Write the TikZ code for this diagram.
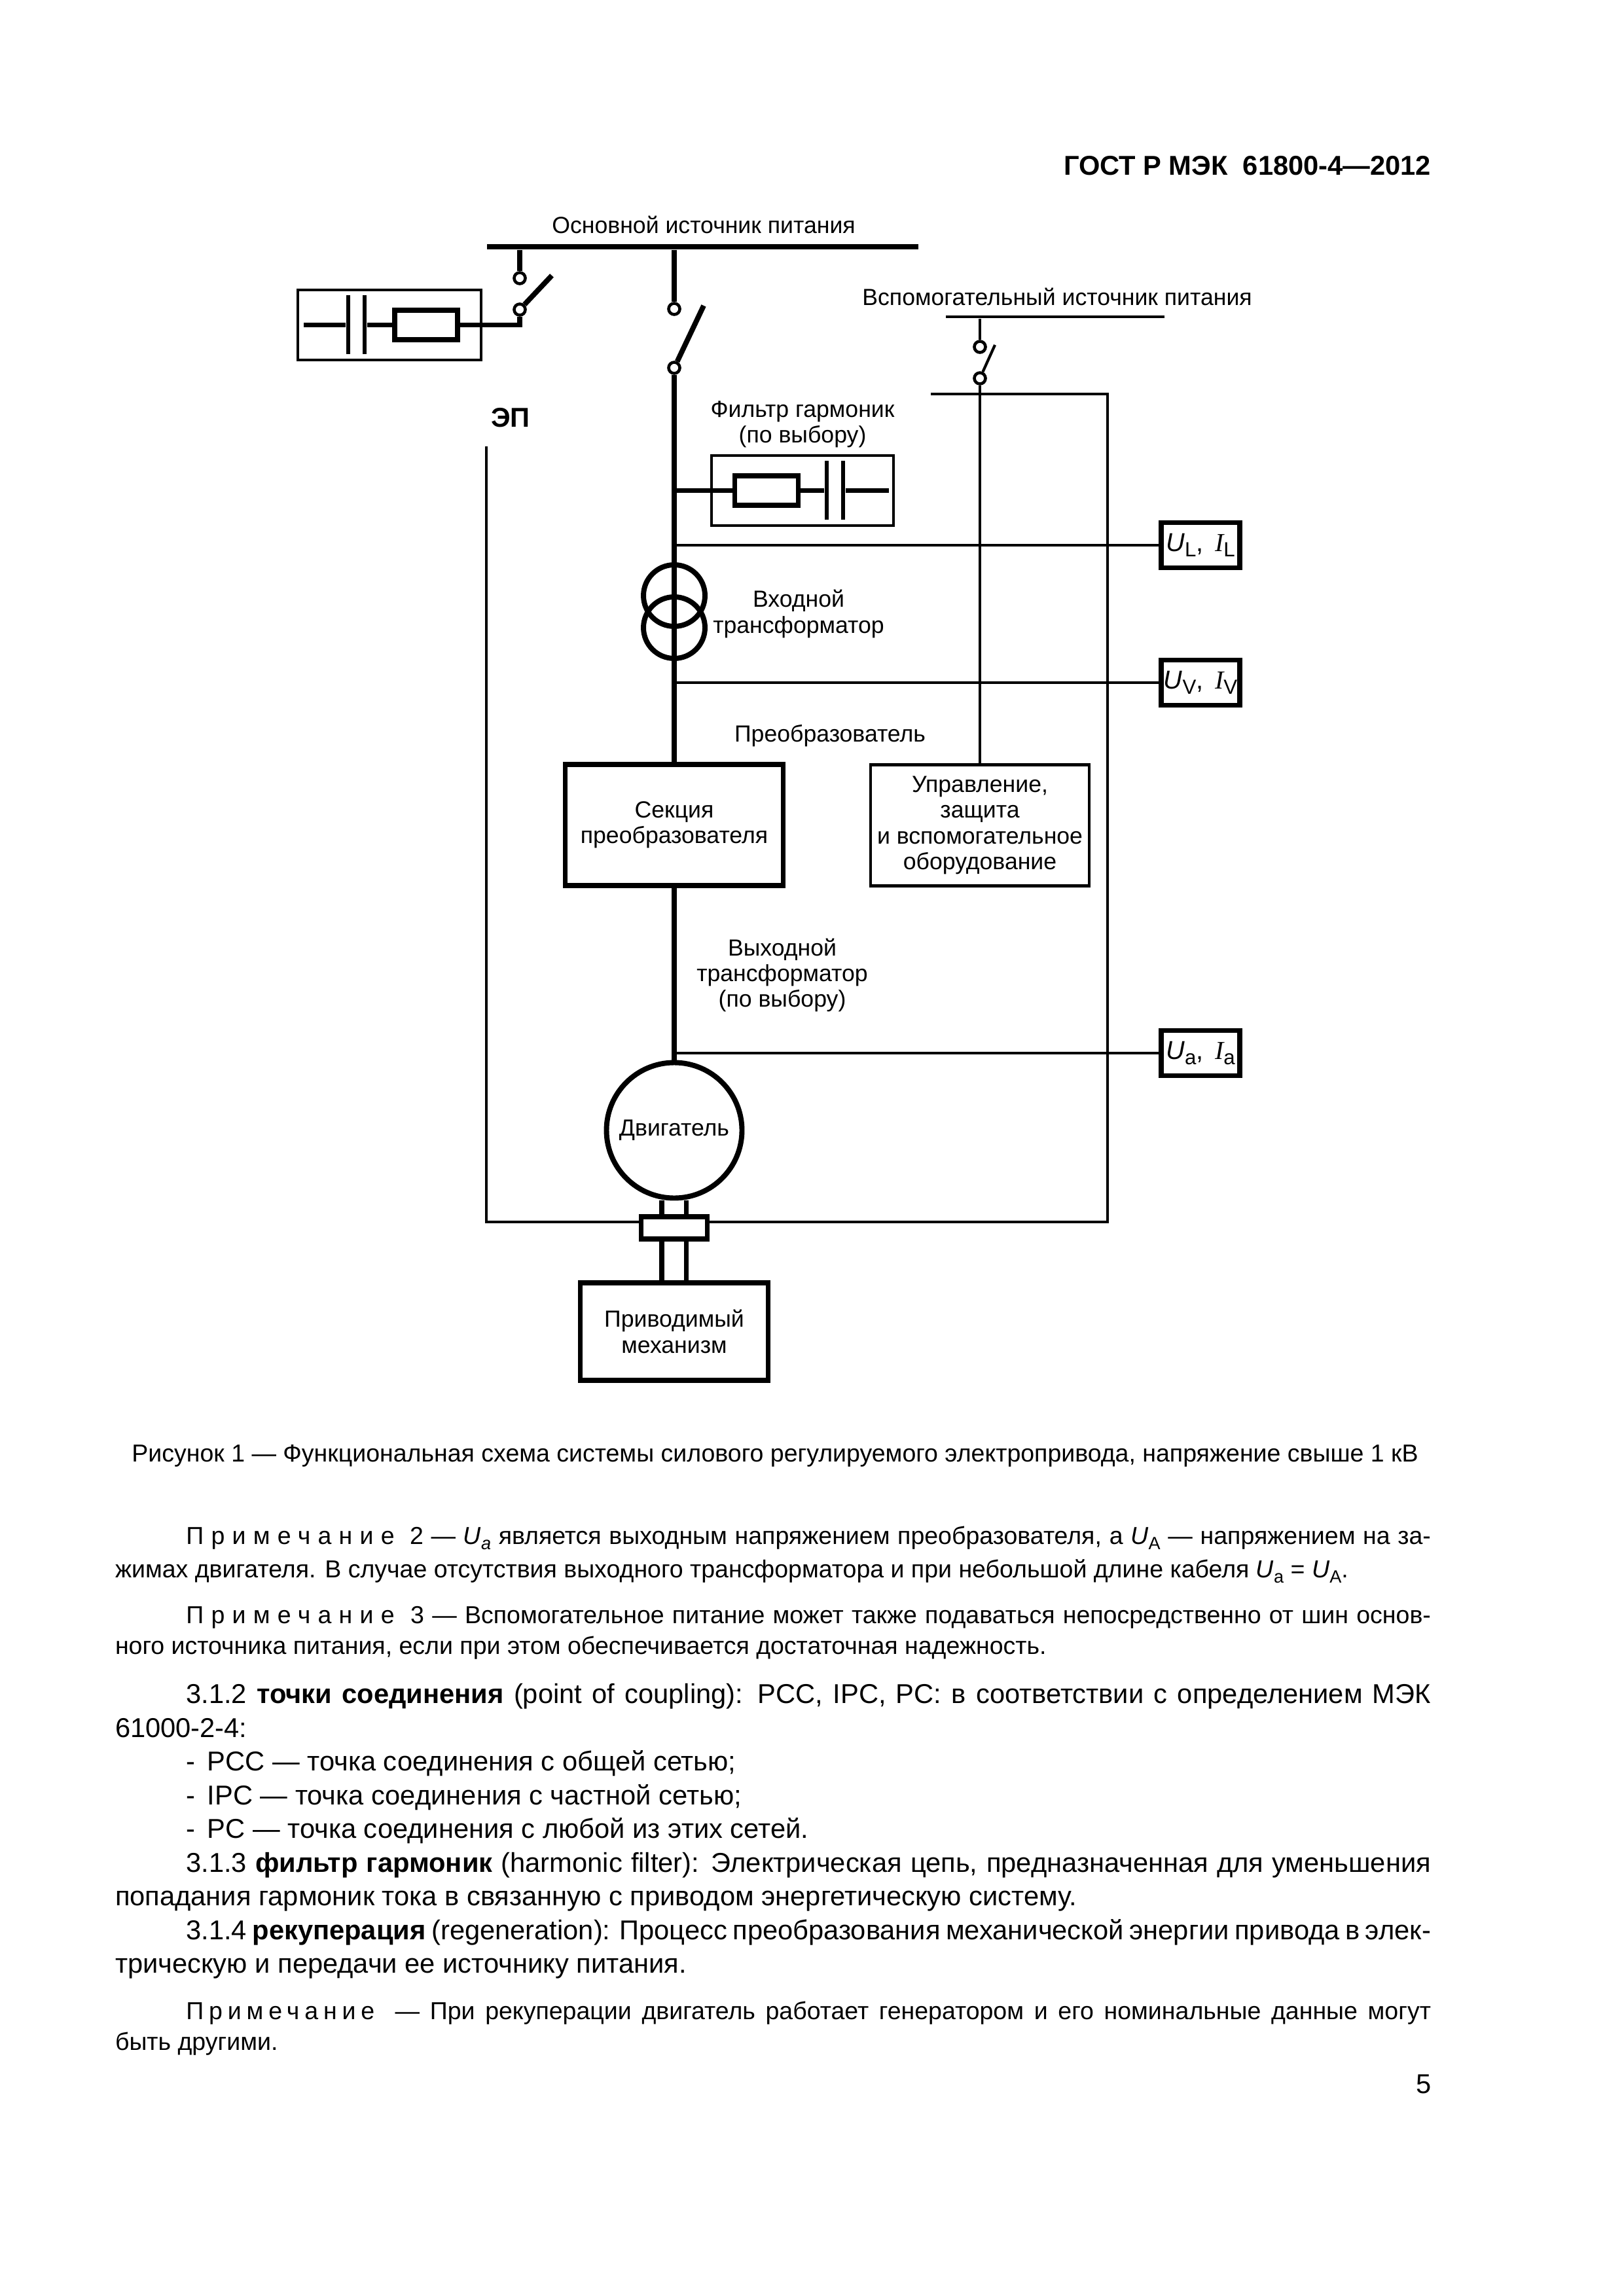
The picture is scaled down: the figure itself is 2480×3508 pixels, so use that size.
\documentclass[tikz,border=0pt]{standalone}
\usepackage{fontspec}
\setmainfont{Liberation Sans}
\newfontfamily\serfont{Liberation Serif}
\newfontfamily\spfont[LetterSpace=30]{Liberation Sans}
\newfontfamily\spfontb[LetterSpace=21]{Liberation Sans}
\newcommand{\sbs}[1]{\raisebox{-0.4ex}{\fontsize{7.5}{7.5}\selectfont #1}}
\newcommand{\sbsn}[1]{\raisebox{-0.4ex}{\fontsize{6.5}{6.5}\selectfont #1}}
\newcommand{\notefont}{\fontsize{9}{11.3}\selectfont\sloppy\hyphenpenalty=10000 }
\newcommand{\notetwofont}{\fontsize{9}{12.25}\selectfont\sloppy\hyphenpenalty=10000 }
\newcommand{\bodyfont}{\fontsize{10}{12.36}\selectfont\sloppy\hyphenpenalty=10000 }
\begin{document}
\begin{tikzpicture}[x=0.24pt, y=-0.24pt,
    boxsize/.style 2 args = {minimum width=#1*0.24pt, minimum height=#2*0.24pt},
    heavy/.style = {line width=1.9pt},
    thin line/.style = {line width=1pt},
    hbox/.style = {draw, heavy, inner sep=0, align=center, font=\fontsize{8.55}{9.4}\selectfont},
    lbox/.style = {draw, thin line, inner sep=0, align=center, font=\fontsize{8.55}{9.4}\selectfont},
    contact/.style = {draw, circle, line width=1.1pt, inner sep=0, minimum size=17*0.24pt},
    coil/.style = {draw, circle, heavy, inner sep=0, minimum size=94*0.24pt},
    plate/.style = {fill, inner sep=0, boxsize={6}{90}},
    bar/.style = {fill, inner sep=0},
    lbl/.style = {align=center, inner sep=0, font=\fontsize{8.55}{9.4}\selectfont},
    meas/.style = {hbox, boxsize={120}{69}, font=\fontsize{9.5}{10}\selectfont},
    para/.style = {text width=482.4pt, align=justify, inner sep=0}]
    \useasboundingbox (0,0) rectangle (2480,3508);

    % Sbarre e contatti
    \node[bar, boxsize={659}{8}] (bus) at (1073.5,377.5) {};
    \node[lbl] (buslbl) at (1075,343) {Основной источник питания};
    \node[contact] (ca1) at (794,425) {};
    \node[contact] (ca2) at (794,473) {};
    \node[contact] (cb1) at (1030,472) {};
    \node[contact] (cb2) at (1030,562) {};
    \node[bar, boxsize={334}{4}] (auxbus) at (1612,484) {};
    \node[lbl] (auxlbl) at (1615,453) {Вспомогательный источник питания};
    \node[contact] (cc1) at (1497,530) {};
    \node[contact] (cc2) at (1497,578) {};
    \coordinate (ba) at (843,421);
    \coordinate (bb) at (1075,467);
    \coordinate (bc) at (1520,527);
    \coordinate (auxl) at (1422,602);
    \coordinate (auxr) at (1692,602);

    \draw[heavy] (ca1) -- (ca1 |- bus.south);
    \draw[heavy] (ca2) -- (ba);
    \draw[heavy] (cb1) -- (cb1 |- bus.south);
    \draw[heavy] (cb2) -- (bb);
    \draw[thin line] (cc1) -- (cc1 |- auxbus.south);
    \draw[thin line] (cc2) -- (bc);

    % Filtri
    \node[lbox, boxsize={280}{107}] (fbox1) at (595,496.5) {};
    \node[hbox, boxsize={96}{45}] (res1) at (651,496.5) {};
    \node[plate] (p1a) at (532,496.5) {};
    \node[plate] (p1b) at (557,496.5) {};
    \coordinate (lead1) at (464,496.5);
    \draw[heavy] (lead1) -- (p1a);
    \draw[heavy] (p1b) -- (res1);
    \draw[heavy] (res1) -| (ca2);

    \node[lbl] (filtlbl) at (1226,648) {Фильтр гармоник\\(по выбору)};
    \node[lbox, boxsize={278}{107}] (fbox2) at (1226,749.5) {};
    \node[hbox, boxsize={97}{45}] (res2) at (1171,749.5) {};
    \node[plate] (p2a) at (1263,749.5) {};
    \node[plate] (p2b) at (1288,749.5) {};
    \coordinate (lead2) at (1358,749.5);
    \coordinate (tapf) at (1030,749.5);
    \draw[heavy] (tapf) -- (res2);
    \draw[heavy] (res2) -- (p2a);
    \draw[heavy] (p2b) -- (lead2);

    % Trasformatore e misure
    \node[coil] (tr1) at (1030,910) {};
    \node[coil] (tr2) at (1030,959) {};
    \node[lbl] (trlbl) at (1220,938) {Входной\\трансформатор};
    \node[meas] (ul) at (1834,833) {\textit{U}\sbs{L},\ \,{\serfont\itshape I}\sbs{L}};
    \node[meas] (uv) at (1834,1043) {\textit{U}\sbs{V},\ \,{\serfont\itshape I}\sbs{V}};
    \node[meas] (ua) at (1834,1609) {\textit{U}\sbs{a},\ \,{\serfont\itshape I}\sbs{a}};
    \coordinate (tapl) at (1030,833);
    \coordinate (tapv) at (1030,1043);
    \coordinate (tapa) at (1030,1609);
    \draw[thin line] (tapl) -- (ul);
    \draw[thin line] (tapv) -- (uv);
    \draw[thin line] (tapa) -- (ua);

    % Convertitore
    \node[lbl] (convlbl) at (1268,1124) {Преобразователь};
    \node[hbox, boxsize={333}{185}] (sec) at (1030,1260.5) {Секция\\преобразователя};
    \node[lbox, boxsize={334}{185}] (ctl) at (1497,1261) {Управление,\\защита\\и вспомогательное\\оборудование};
    \node[lbl] (outlbl) at (1195,1490) {Выходной\\трансформатор\\(по выбору)};
    \node[draw, circle, heavy, inner sep=0, minimum size=207*0.24pt, font=\fontsize{8.55}{9.4}\selectfont] (mot) at (1030,1727) {Двигатель};
    \node[hbox, boxsize={101}{34}] (coupl) at (1030,1876) {};
    \node[hbox, boxsize={287}{149}] (mech) at (1030,2034.5) {Приводимый\\механизм};
    \coordinate (sl) at (1011,1900);
    \coordinate (sr) at (1048.5,1900);
    \coordinate (jl) at (979,1867);
    \coordinate (jr) at (1080,1867);
    \coordinate (eptop) at (743,682);

    \draw[heavy] (cb2) -- (sec);
    \draw[heavy] (sec) -- (mot);
    \draw[heavy] (sl |- mot.south) -- (sl |- coupl.north);
    \draw[heavy] (sr |- mot.south) -- (sr |- coupl.north);
    \draw[heavy] (sl |- coupl.south) -- (sl |- mech.north);
    \draw[heavy] (sr |- coupl.south) -- (sr |- mech.north);
    \draw[thin line] (cc2) -- (ctl);
    \draw[thin line] (auxl) -- (auxr) |- (jr);
    \draw[thin line] (eptop) |- (jl);
    \node[inner sep=0, font=\fontsize{10}{12}\selectfont\bfseries] (ep) at (780,638) {ЭП};

    % Testo della pagina
    \node[anchor=east, inner sep=0, font=\fontsize{10}{12}\selectfont\bfseries] (head) at (2187,253) {ГОСТ Р МЭК\ \ 61800-4—2012};
    \node[inner sep=0, font=\fontsize{9}{12}\selectfont] (capt) at (1184,2224) {Рисунок 1 — Функциональная схема системы силового регулируемого электропривода, напряжение свыше 1 кВ};
    \node[para, font=\notetwofont] (note2) at (1181,2375.5) {\hspace*{26pt}{\spfont Примечание}\ \ 2 — \textit{U}\sbsn{\itshape a} является выходным напряжением преобразователя, а \textit{U}\sbsn{А} — напряжением на за-\linebreak жимах двигателя. В случае отсутствия выходного трансформатора и при небольшой длине кабеля \textit{U}\sbsn{a} = \textit{U}\sbsn{А}.};
    \node[para, font=\notefont] (note3) at (1181,2494.5) {\hspace*{26pt}{\spfont Примечание}\ \ 3 — Вспомогательное питание может также подаваться непосредственно от шин основ-\linebreak ного источника питания, если при этом обеспечивается достаточная надежность.};
    \node[para, font=\bodyfont] (body) at (1181,2798) {\hspace*{26pt}3.1.2 \textbf{точки соединения} (point of coupling): PCC, IPC, PC: в соответствии с определением МЭК\linebreak 61000-2-4:\par
    \hspace*{26pt}-\ \,PCC — точка соединения с общей сетью;\par
    \hspace*{26pt}-\ \,IPC — точка соединения с частной сетью;\par
    \hspace*{26pt}-\ \,PC — точка соединения с любой из этих сетей.\par
    \hspace*{26pt}3.1.3 \textbf{фильтр гармоник} (harmonic filter): Электрическая цепь, предназначенная для уменьшения\linebreak попадания гармоник тока в связанную с приводом энергетическую систему.\par
    \hspace*{26pt}3.1.4 \textbf{рекуперация} (regeneration): Процесс преобразования механической энергии привода в элек-\linebreak трическую и передачи ее источнику питания.};
    \node[para, font=\notefont] (note4) at (1181,3099.5) {\hspace*{26pt}{\spfontb Примечание}\ \ — При рекуперации двигатель работает генератором и его номинальные данные могут\linebreak быть другими.};
    \node[anchor=east, inner sep=0, font=\fontsize{10}{12}\selectfont] (pagenum) at (2187,3184) {5};
\end{tikzpicture}
\end{document}
